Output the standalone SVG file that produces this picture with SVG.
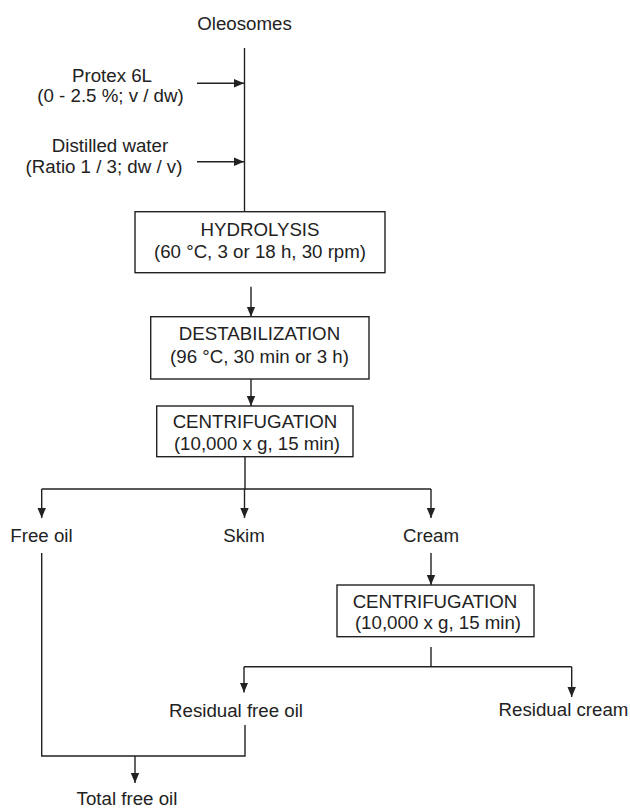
<svg xmlns="http://www.w3.org/2000/svg" width="630" height="810" viewBox="0 0 630 810">
<defs>
<style>
text{font-family:"Liberation Sans",Arial,sans-serif;font-size:18.7px;fill:#222;text-anchor:middle}
.box{fill:#fff;stroke:#222;stroke-width:1.4}
.ln{fill:none;stroke:#222;stroke-width:1.4}
.ar{fill:none;stroke:#222;stroke-width:1.4;marker-end:url(#ah)}
</style>
<marker id="ah" viewBox="0 0 10 10" refX="10" refY="5" markerWidth="10" markerHeight="10" markerUnits="userSpaceOnUse" orient="auto">
<path d="M0,0.8 L10,5 L0,9.2 z" fill="#222"/>
</marker>
</defs>
<rect width="630" height="810" fill="#fff"/>
<g id="connectors">
<path class="ln" d="M244.5,48 V211.7"/>
<path class="ar" d="M197,83.3 H244"/>
<path class="ar" d="M197,161.7 H244"/>
<path class="ar" d="M251,286.7 V316.7"/>
<path class="ar" d="M251,379 V406"/>
<path class="ln" d="M245,456.7 V489"/>
<path class="ln" d="M41.7,489 H431"/>
<path class="ar" d="M41.7,489 V518"/>
<path class="ar" d="M244.5,489 V518"/>
<path class="ar" d="M431,489 V518"/>
<path class="ar" d="M431,553 V585"/>
<path class="ln" d="M431,647 V666.7"/>
<path class="ln" d="M244,666.7 H571.7"/>
<path class="ar" d="M244,666.7 V692.5"/>
<path class="ar" d="M571.7,666.7 V697"/>
<path class="ln" d="M41.7,553 V756 H245 V725"/>
<path class="ar" d="M135,756 V783"/>
</g>
<g id="oleosomes"><text x="244.5" y="30">Oleosomes</text></g>
<g id="protex"><text x="112" y="81.7">Protex 6L</text><text x="110.5" y="102">(0 - 2.5 %; v / dw)</text></g>
<g id="water"><text x="110" y="151.7">Distilled water</text><text x="104" y="172.7">(Ratio 1 / 3; dw / v)</text></g>
<g id="hydrolysis"><rect class="box" x="135" y="211.7" width="250" height="61"/><text x="260" y="236">HYDROLYSIS</text><text x="260" y="258">(60 °C, 3 or 18 h, 30 rpm)</text></g>
<g id="destabilization"><rect class="box" x="150.7" y="316.7" width="218.3" height="62.3"/><text x="259.5" y="340">DESTABILIZATION</text><text x="259.5" y="362.7">(96 °C, 30 min or 3 h)</text></g>
<g id="centrifugation1"><rect class="box" x="156.7" y="406" width="196.3" height="50.7"/><text x="255" y="428.4">CENTRIFUGATION</text><text x="257" y="450">(10,000 x g, 15 min)</text></g>
<g id="freeoil"><text x="41.5" y="541.7">Free oil</text></g>
<g id="skim"><text x="244" y="541.7">Skim</text></g>
<g id="cream"><text x="431" y="541.7">Cream</text></g>
<g id="centrifugation2"><rect class="box" x="337" y="585" width="197" height="51.7"/><text x="435" y="607.5">CENTRIFUGATION</text><text x="438" y="629">(10,000 x g, 15 min)</text></g>
<g id="residualfreeoil"><text x="236" y="716.7">Residual free oil</text></g>
<g id="residualcream"><text x="563.5" y="716">Residual cream</text></g>
<g id="totalfreeoil"><text x="127" y="805">Total free oil</text></g>
</svg>
